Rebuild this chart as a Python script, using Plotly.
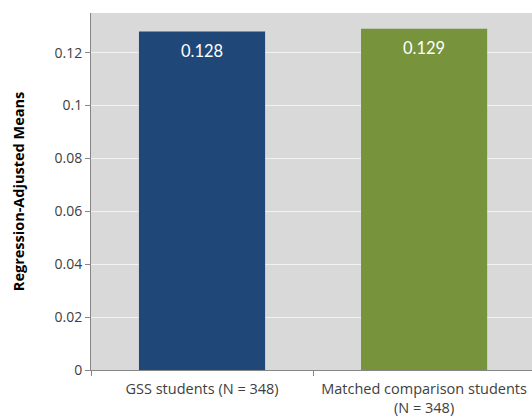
import plotly.graph_objects as go

categories = ["GSS students (N = 348)", "Matched comparison students<br>(N = 348)"]
means = [0.128, 0.129]
bar_colors = ["#1f4778", "#77933c"]
y_ticks = [0, 0.02, 0.04, 0.06, 0.08, 0.1, 0.12]
y_tick_text = ["0", "0.02", "0.04", "0.06", "0.08", "0.1", "0.12"]

fig = go.Figure(
    go.Bar(
        x=categories,
        y=means,
        marker=dict(color=bar_colors, line=dict(width=0)),
        width=0.568,
        hoverinfo="x+y",
    )
)

# value labels just inside the top of each bar
for cat, val in zip(categories, means):
    fig.add_annotation(
        x=cat,
        y=val,
        text=f"{val:.3f}",
        showarrow=False,
        yanchor="top",
        yshift=-7,
        font=dict(color="white", size=16.5, family="Lato"),
    )

fig.update_layout(
    width=532,
    height=417,
    margin=dict(l=91, r=0, t=13, b=45),
    paper_bgcolor="white",
    plot_bgcolor="#d9d9d9",
    showlegend=False,
    font=dict(family="Open Sans", color="#404040"),
)

fig.update_xaxes(
    type="category",
    range=[-0.5, 1.486],
    tickson="boundaries",
    ticks="outside",
    ticklen=5,
    tickcolor="#868686",
    showline=True,
    linecolor="#868686",
    linewidth=1,
    showgrid=False,
    ticklabelstandoff=6,
    tickfont=dict(size=14.5, color="#404040", family="Open Sans"),
)

fig.update_yaxes(
    range=[0, 0.135],
    tickvals=y_ticks,
    ticktext=y_tick_text,
    ticks="outside",
    ticklen=5,
    tickcolor="#868686",
    showline=True,
    linecolor="#868686",
    linewidth=1,
    gridcolor="#f2f2f2",
    gridwidth=1,
    zeroline=False,
    tickfont=dict(size=14, color="#404040", family="Open Sans"),
    title=dict(
        text="<b>Regression-Adjusted Means</b>",
        font=dict(size=14.5, color="black", family="Open Sans"),
        standoff=26,
    ),
)

fig.write_html("out.html")
